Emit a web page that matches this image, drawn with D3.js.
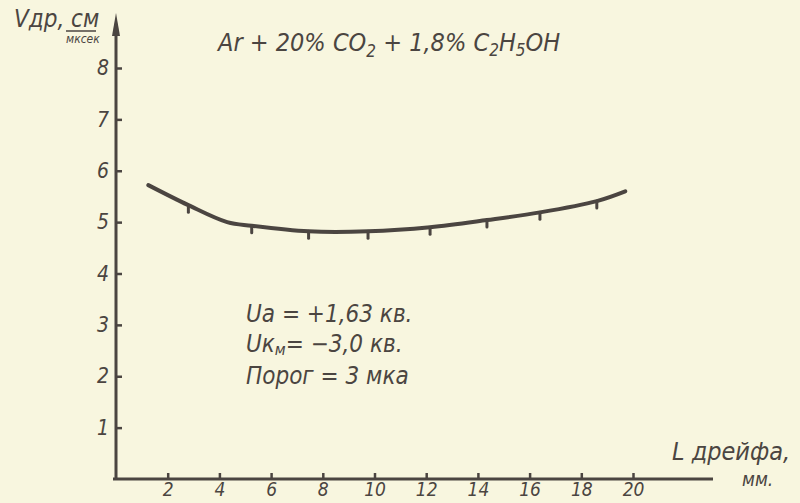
<!DOCTYPE html>
<html>
<head>
<meta charset="utf-8">
<script src="https://cdn.jsdelivr.net/npm/d3@7"></script>
<style>
  html, body { margin: 0; padding: 0; background: #f8f6df; }
  svg { display: block; }
  text { font-family: "Liberation Sans Narrow", "DejaVu Sans Condensed", sans-serif; font-style: italic; fill: #4b4541; }
</style>
</head>
<body>
<div id="chart"></div>
<script>
// drift length, mm  /  drift velocity, cm/us
const xTicks = [2, 4, 6, 8, 10, 12, 14, 16, 18, 20];
const yTicks = [1, 2, 3, 4, 5, 6, 7, 8];

// measured points (little ticks hanging under the curve)
const measX = [2.8, 5.25, 7.45, 9.75, 12.15, 14.35, 16.4, 18.6];
const measY = [5.33, 4.93, 4.82, 4.82, 4.9, 5.04, 5.19, 5.41];

// hand drawn smooth curve
const curveX = [1.25, 2.8, 4.3, 5.25, 7.45, 9.75, 12.15, 14.35, 16.4, 18.6, 19.7];
const curveY = [5.72, 5.33, 5.0, 4.93, 4.82, 4.82, 4.9, 5.04, 5.19, 5.41, 5.6];

const ink = "#4b4541";
const W = 800, H = 503;

const svg = d3.select("#chart").append("svg")
    .attr("width", W)
    .attr("height", H);

const x = d3.scaleLinear().domain([0, 20]).range([116, 633]);
const y = d3.scaleLinear().domain([0, 8]).range([479, 68]);

// axes lines (drawn longer than the scales, like on paper)
svg.append("line")
    .attr("x1", 113).attr("x2", 713)
    .attr("y1", y(0)).attr("y2", y(0))
    .attr("stroke", ink).attr("stroke-width", 3);
svg.append("line")
    .attr("x1", x(0)).attr("x2", x(0))
    .attr("y1", y(0) + 1).attr("y2", 28)
    .attr("stroke", ink).attr("stroke-width", 3);
// arrow on the y axis
svg.append("path")
    .attr("d", `M${x(0)},13 L${x(0) - 4},36 L${x(0) + 4},36 Z`)
    .attr("fill", ink);

// ticks via d3 axes, ticks pointing inward
const gx = svg.append("g")
    .attr("transform", `translate(0, ${y(0)})`)
    .call(d3.axisBottom(x).tickValues(xTicks).tickSize(-6).tickPadding(3));
gx.select(".domain").remove();
gx.selectAll("line").attr("stroke", ink).attr("stroke-width", 2.5);
gx.selectAll("text").style("font-size", "19px").attr("fill", ink);

const gy = svg.append("g")
    .attr("transform", `translate(${x(0)}, 0)`)
    .call(d3.axisLeft(y).tickValues(yTicks).tickSize(-6).tickPadding(7));
gy.select(".domain").remove();
gy.selectAll("line").attr("stroke", ink).attr("stroke-width", 2.5);
gy.selectAll("text").style("font-size", "21px").attr("fill", ink);

// the curve
const pts = curveX.map((d, i) => [d, curveY[i]]);
const line = d3.line()
    .x(d => x(d[0]))
    .y(d => y(d[1]))
    .curve(d3.curveCatmullRom.alpha(0.5));
svg.append("path")
    .attr("d", line(pts))
    .attr("fill", "none")
    .attr("stroke", ink)
    .attr("stroke-width", 4)
    .attr("stroke-linecap", "round");

// measured points
svg.selectAll("line.pt")
    .data(measX.map((d, i) => [d, measY[i]]))
    .enter()
    .append("line")
    .attr("class", "pt")
    .attr("x1", d => x(d[0])).attr("x2", d => x(d[0]))
    .attr("y1", d => y(d[1])).attr("y2", d => y(d[1]) + 7)
    .attr("stroke", ink)
    .attr("stroke-width", 3)
    .attr("stroke-linecap", "round");

// y axis title: Vдр, см / мксек
svg.append("text")
    .attr("x", 14).attr("y", 27)
    .style("font-size", "24px")
    .text("Vдр, см");
svg.append("line")
    .attr("x1", 66).attr("x2", 96)
    .attr("y1", 31).attr("y2", 31)
    .attr("stroke", ink).attr("stroke-width", 1.5);
svg.append("text")
    .attr("x", 66).attr("y", 43)
    .style("font-size", "12px")
    .text("мксек");

// gas mixture title
const title = svg.append("text")
    .attr("x", 218).attr("y", 51)
    .style("font-size", "25px");
title.append("tspan").text("Ar + 20% CO");
title.append("tspan").attr("dy", 6).style("font-size", "17px").text("2");
title.append("tspan").attr("dy", -6).text(" + 1,8% C");
title.append("tspan").attr("dy", 5).style("font-size", "17px").text("2");
title.append("tspan").attr("dy", -5).text("H");
title.append("tspan").attr("dy", 5).style("font-size", "17px").text("5");
title.append("tspan").attr("dy", -5).text("OH");

// x axis title
svg.append("text")
    .attr("x", 672).attr("y", 460)
    .style("font-size", "25px")
    .text("L дрейфа,");
svg.append("text")
    .attr("x", 742).attr("y", 486)
    .style("font-size", "19px")
    .text("мм.");

// conditions
svg.append("text")
    .attr("x", 246).attr("y", 322)
    .style("font-size", "24px")
    .text("Uа = +1,63 кв.");
const t2 = svg.append("text")
    .attr("x", 246).attr("y", 352)
    .style("font-size", "24px");
t2.append("tspan").text("Uк");
t2.append("tspan").attr("dy", 3).style("font-size", "16px").text("м");
t2.append("tspan").attr("dy", -3).text("= −3,0 кв.");
svg.append("text")
    .attr("x", 246).attr("y", 384)
    .style("font-size", "24px")
    .text("Порог = 3 мка");
</script>
</body>
</html>
